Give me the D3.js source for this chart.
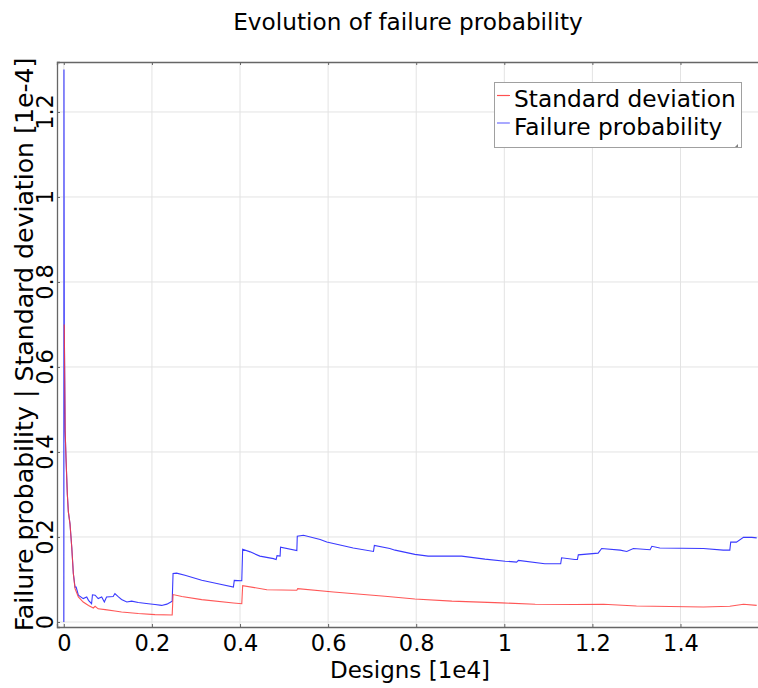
<!DOCTYPE html>
<html><head><meta charset="utf-8">
<script src="https://cdn.jsdelivr.net/npm/d3@7"></script>
<style>body{margin:0;background:#fff}svg{display:block}text{font-family:"DejaVu Sans",Verdana,sans-serif;fill:#000}</style>
</head><body>
<script>
const title = "Evolution of failure probability";
const xLabel = "Designs [1e4]";
const yLabel = "Failure probability | Standard deviation [1e-4]";
const seriesNames = ["Standard deviation", "Failure probability"];
const xTicks = [0, 0.2, 0.4, 0.6, 0.8, 1, 1.2, 1.4];
const yTicks = [0, 0.2, 0.4, 0.6, 0.8, 1, 1.2];

const failureDesigns = [0,0.0003,0.0006,0.001,0.003,0.005,0.008,0.0103,0.014,0.018,0.0216,0.0254,0.028,0.033,0.044,0.052,0.056,0.063,0.065,0.071,0.078,0.086,0.092,0.097,0.112,0.116,0.124,0.131,0.143,0.154,0.169,0.192,0.207,0.222,0.234,0.241,0.246,0.248,0.256,0.275,0.313,0.35,0.385,0.387,0.404,0.406,0.423,0.445,0.476,0.482,0.484,0.491,0.492,0.529,0.53,0.544,0.582,0.597,0.657,0.703,0.705,0.74,0.752,0.797,0.827,0.903,0.956,1.002,1.028,1.032,1.092,1.128,1.13,1.16,1.166,1.168,1.213,1.221,1.263,1.278,1.293,1.331,1.335,1.353,1.452,1.497,1.512,1.514,1.527,1.543,1.562,1.573];
const failureValues = [0,1.30,1.00,0.70,0.45,0.384,0.30,0.259,0.231,0.176,0.114,0.082,0.082,0.063,0.055,0.059,0.051,0.043,0.064,0.063,0.055,0.059,0.047,0.059,0.060,0.067,0.059,0.053,0.047,0.049,0.046,0.043,0.041,0.039,0.042,0.046,0.049,0.114,0.115,0.110,0.098,0.090,0.082,0.098,0.097,0.171,0.165,0.155,0.149,0.147,0.156,0.155,0.176,0.168,0.202,0.204,0.194,0.188,0.174,0.166,0.180,0.173,0.169,0.159,0.155,0.155,0.148,0.143,0.141,0.145,0.137,0.137,0.151,0.147,0.147,0.158,0.162,0.173,0.169,0.166,0.173,0.170,0.178,0.174,0.173,0.169,0.169,0.188,0.188,0.199,0.199,0.198];

const stdDesigns = [0.001,0.0016,0.003,0.005,0.008,0.0103,0.014,0.018,0.0216,0.0254,0.033,0.044,0.056,0.067,0.071,0.078,0.094,0.116,0.131,0.169,0.207,0.246,0.248,0.268,0.313,0.385,0.404,0.406,0.461,0.529,0.531,0.612,0.729,0.797,0.881,0.994,1.07,1.16,1.225,1.30,1.452,1.512,1.543,1.573];
const stdValues = [0.70,0.63,0.45,0.384,0.30,0.259,0.231,0.176,0.114,0.0786,0.059,0.047,0.039,0.033,0.037,0.031,0.029,0.026,0.0235,0.0198,0.0174,0.0165,0.0645,0.060,0.0527,0.0447,0.043,0.0856,0.076,0.0746,0.0786,0.0706,0.0605,0.054,0.049,0.045,0.0416,0.041,0.0416,0.0376,0.0353,0.037,0.0416,0.039];

const W = 758, H = 688;
const L = 57, R = 760, T = 62, B = 627;
const svg = d3.select("body").append("svg").attr("width", W).attr("height", H);

const x = d3.scaleLinear().domain([-0.0155, 1.5805]).range([L, R]);
const y = d3.scaleLinear().domain([-0.0118, 1.3176]).range([B, T]);

// grid
const g = svg.append("g");
g.selectAll("line.vx").data(xTicks).join("line")
  .attr("x1", d => x(d)).attr("x2", d => x(d)).attr("y1", T).attr("y2", B)
  .attr("stroke", "#e3e3e3").attr("stroke-width", 1);
g.selectAll("line.hy").data(yTicks).join("line")
  .attr("y1", d => y(d)).attr("y2", d => y(d)).attr("x1", L).attr("x2", R)
  .attr("stroke", "#e3e3e3").attr("stroke-width", 1);

// axes with inward ticks
const axB = d3.axisBottom(x).tickValues(xTicks).tickSize(-3).tickPadding(8).tickFormat(d3.format("~g"));
const axT = d3.axisTop(x).tickValues(xTicks).tickSize(-3).tickFormat("");
const axL = d3.axisLeft(y).tickValues(yTicks).tickSize(-3).tickFormat("");
const gb = svg.append("g").attr("transform", `translate(0,${B})`).call(axB);
const gt = svg.append("g").attr("transform", `translate(0,${T})`).call(axT);
const gl = svg.append("g").attr("transform", `translate(${L},0)`).call(axL);
[gb, gt, gl].forEach(a => {
  a.select(".domain").attr("stroke", "#666").attr("stroke-width", 1.3);
  a.selectAll(".tick line").attr("stroke", "#666");
});
gb.selectAll("text").attr("font-size", 22.5).attr("font-family", "DejaVu Sans").attr("fill", "#000");

// rotated y tick labels
svg.append("g").selectAll("text").data(yTicks).join("text")
  .attr("transform", d => `translate(53,${y(d)}) rotate(-90)`)
  .attr("text-anchor", "middle").attr("font-size", 22.5)
  .text(d => d3.format("~g")(d));

// lines
const lineGen = d3.line().x(d => x(d[0])).y(d => y(d[1]));
const fpData = failureDesigns.map((d, i) => [d, failureValues[i]]);
const sdData = stdDesigns.map((d, i) => [d, stdValues[i]]);
svg.append("path").datum(fpData).attr("d", lineGen).attr("fill", "none")
  .attr("stroke", "#3a3aff").attr("stroke-width", 1.1);
svg.append("path").datum(sdData).attr("d", lineGen).attr("fill", "none")
  .attr("stroke", "#ff3a3a").attr("stroke-width", 1.1).attr("stroke-opacity", 0.85);

// titles
svg.append("text").attr("x", 408).attr("y", 30).attr("text-anchor", "middle")
  .attr("font-size", 23.2).text(title);
svg.append("text").attr("x", 410).attr("y", 678).attr("text-anchor", "middle")
  .attr("font-size", 23).text(xLabel);
svg.append("text").attr("transform", `translate(33,${(T + B) / 2}) rotate(-90)`)
  .attr("text-anchor", "middle").attr("font-size", 25.2).text(yLabel);

// legend
const lg = svg.append("g").attr("transform", "translate(494,82)");
lg.append("rect").attr("x", 0.5).attr("y", 0.5).attr("width", 247).attr("height", 65)
  .attr("fill", "#fff").attr("stroke", "#a0a0a0");
const legColors = ["#ff5050", "#7070ff"];
seriesNames.forEach((n, i) => {
  lg.append("line").attr("x1", 3).attr("x2", 16).attr("y1", 13.5 + i * 27.5).attr("y2", 13.5 + i * 27.5)
    .attr("stroke", legColors[i]).attr("stroke-width", 1.2);
  lg.append("text").attr("x", 20).attr("y", 25 + i * 28).attr("font-size", 23.3).text(n);
});
lg.append("path").attr("d", "M244,62 L244,65 L241,65 Z").attr("fill", "#808080");
</script>
</body></html>
